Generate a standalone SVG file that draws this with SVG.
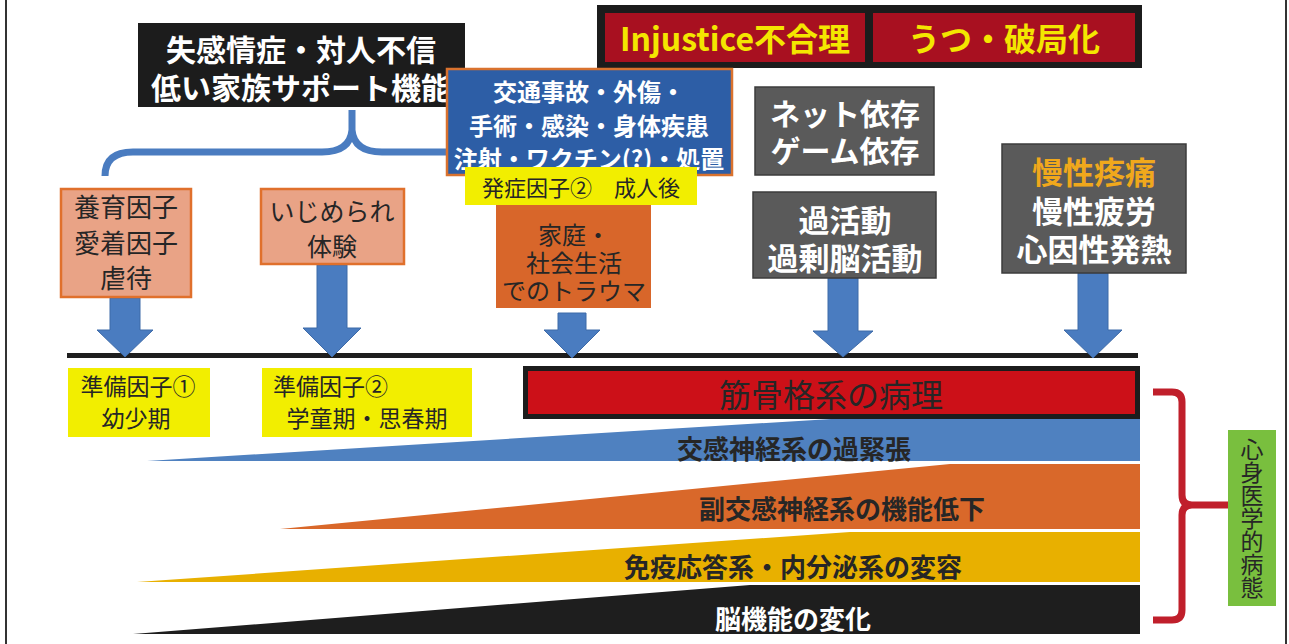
<svg xmlns="http://www.w3.org/2000/svg" width="1289" height="644" viewBox="0 0 1289 644">
<style>
.t{font-family:"Noto Sans CJK JP","Noto Sans",sans-serif;text-anchor:middle;dominant-baseline:central}
.b{font-weight:bold}
.wh{fill:#ffffff}
.dk{fill:#262626}
.yl{fill:#f4e600}
.gray{fill:#5a5a5a;stroke:#3c3c3c;stroke-width:1.5}
.salmon{fill:#e9a386;stroke:#e0702c;stroke-width:2.5}
.ybox{fill:#f2ee00}
.arrow{fill:#4a7cc0;stroke:#3d6aa8;stroke-width:1}
</style>
<rect x="0" y="0" width="1289" height="644" fill="#ffffff"/>
<line x1="6" y1="0" x2="6" y2="644" stroke="#333" stroke-width="2"/>
<line x1="1286" y1="0" x2="1286" y2="644" stroke="#333" stroke-width="2"/>

<g id="wedges">
<polygon points="147,461 1140,400 1140,461" fill="#4f81c0"/>
<polygon points="280,529 950,464 1140,464 1140,529" fill="#d9682a"/>
<polygon points="137,582 850,532 1140,532 1140,582" fill="#e8b000"/>
<polygon points="133,634 750,585 1140,585 1140,634" fill="#1e1e1e"/>
<text class="t b dk" x="794" y="447" font-size="26">交感神経系の過緊張</text>
<text class="t b dk" x="842" y="507" font-size="26">副交感神経系の機能低下</text>
<text class="t b dk" x="793" y="565" font-size="26">免疫応答系・内分泌系の変容</text>
<text class="t b wh" x="793" y="617" font-size="26">脳機能の変化</text>
</g>

<g id="connectors">
<path d="M105,176 Q105,152 133,152 L322,152 Q350,152 352,130 L352,110 M352,130 Q354,152 382,152 L452,152" fill="none" stroke="#4a7cc0" stroke-width="7"/>
<rect x="67" y="353" width="1071" height="5" fill="#1e1e1e"/>
<polygon class="arrow" points="110,298 140,298 140,330 153,330 125,357 97,330 110,330"/>
<polygon class="arrow" points="317,265 347,265 347,328 361,328 332,357 303,328 317,328"/>
<polygon class="arrow" points="558,313 586,313 586,330 600,330 572,358 544,330 558,330"/>
<polygon class="arrow" points="828,278 858,278 858,331 873,331 843,357 813,331 828,331"/>
<polygon class="arrow" points="1078,273 1108,273 1108,330 1122,330 1093,358 1064,330 1078,330"/>
<path d="M1153,392 L1172,392 Q1182,392 1182,402 L1182,495 Q1182,505 1192,505 L1228,505 M1192,505 Q1182,505 1182,515 L1182,610 Q1182,620 1172,620 L1153,620" fill="none" stroke="#c01f2b" stroke-width="7"/>
</g>

<g id="node-alexithymia">
<rect x="138" y="23" width="327" height="84" fill="#1c1c1c"/>
<text class="t b wh" x="301" y="48" font-size="30">失感情症・対人不信</text>
<text class="t b wh" x="301" y="86" font-size="30">低い家族サポート機能</text>
</g>

<g id="node-injustice">
<rect x="597" y="5" width="545" height="63" fill="#1c1c1c"/>
<rect x="605" y="13" width="260" height="49" fill="#a81020"/>
<text class="t b yl" x="735" y="37" font-size="32">Injustice不合理</text>
</g>
<g id="node-catastrophizing">
<rect x="873" y="13" width="262" height="49" fill="#a81020"/>
<text class="t b yl" x="1004" y="37" font-size="32">うつ・破局化</text>
</g>

<g id="node-trauma-physical">
<rect x="447" y="69" width="285" height="106" fill="#2d5ea6" stroke="#d9722e" stroke-width="2.5"/>
<text class="t b wh" x="589" y="90" font-size="24">交通事故・外傷・</text>
<text class="t b wh" x="589" y="124" font-size="24">手術・感染・身体疾患</text>
<text class="t b wh" x="589" y="157" font-size="24">注射・ワクチン(?)・処置</text>
</g>

<g id="label-onset2">
<rect x="465" y="167" width="232" height="38" class="ybox"/>
<text class="t dk" x="581" y="186" font-size="22">発症因子②　成人後</text>
</g>

<g id="node-social-trauma">
<rect x="496" y="205" width="155" height="103" fill="#d8662a"/>
<text class="t dk" x="574" y="233" font-size="24">家庭・</text>
<text class="t dk" x="574" y="261" font-size="24">社会生活</text>
<text class="t dk" x="574" y="289" font-size="24">でのトラウマ</text>
</g>

<g id="node-upbringing">
<rect x="61" y="189" width="130" height="108" class="salmon"/>
<text class="t dk" x="126" y="205" font-size="26">養育因子</text>
<text class="t dk" x="126" y="241" font-size="26">愛着因子</text>
<text class="t dk" x="126" y="276" font-size="26">虐待</text>
</g>

<g id="node-bullying">
<rect x="261" y="189" width="143" height="75" class="salmon"/>
<text class="t dk" x="332" y="210" font-size="25">いじめられ</text>
<text class="t dk" x="332" y="245" font-size="25">体験</text>
</g>

<g id="label-prep1">
<rect x="68" y="368" width="142" height="69" class="ybox"/>
<text class="t dk" x="138" y="385" font-size="23">準備因子①</text>
<text class="t dk" x="136" y="417" font-size="23">幼少期</text>
</g>

<g id="label-prep2">
<rect x="262" y="368" width="210" height="69" class="ybox"/>
<text class="t dk" x="273" y="385" font-size="23" style="text-anchor:start">準備因子②</text>
<text class="t dk" x="367" y="417" font-size="23">学童期・思春期</text>
</g>

<g id="node-addiction">
<rect x="755" y="87" width="179" height="88" class="gray"/>
<text class="t b wh" x="845" y="112" font-size="30">ネット依存</text>
<text class="t b wh" x="845" y="149" font-size="30">ゲーム依存</text>
</g>

<g id="node-overactivity">
<rect x="753" y="192" width="183" height="86" class="gray"/>
<text class="t b wh" x="845" y="218" font-size="31">過活動</text>
<text class="t b wh" x="845" y="256" font-size="31">過剰脳活動</text>
</g>

<g id="node-chronic">
<rect x="1002" y="144" width="184" height="129" class="gray"/>
<text class="t b" x="1094" y="170" font-size="31" fill="#f0a81c">慢性疼痛</text>
<text class="t b wh" x="1094" y="209" font-size="31">慢性疲労</text>
<text class="t b wh" x="1094" y="247" font-size="31">心因性発熱</text>
</g>

<g id="node-musculoskeletal">
<rect x="525.5" y="368.5" width="612" height="48" fill="#cc1018" stroke="#1c1c1c" stroke-width="5"/>
<text class="t dk" x="831" y="393" font-size="32">筋骨格系の病理</text>
</g>

<g id="node-psychosomatic">
<rect x="1228" y="430" width="48" height="176" fill="#79bf3e"/>
<text class="t dk" x="1252" y="518" font-size="23" style="writing-mode:vertical-rl">心身医学的病態</text>
</g>
</svg>
